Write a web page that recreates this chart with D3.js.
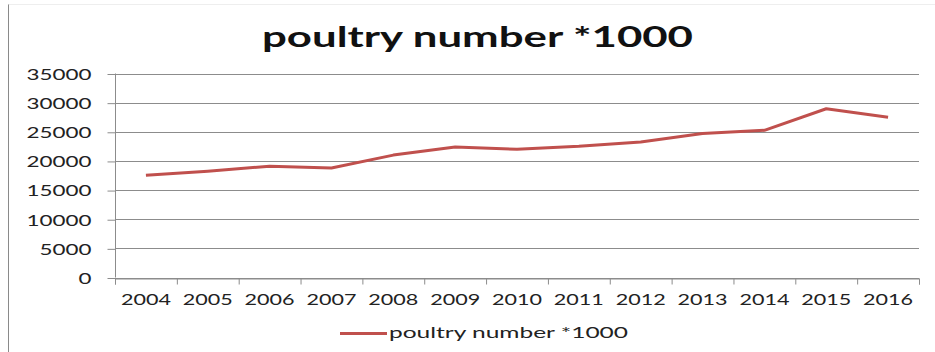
<!DOCTYPE html>
<html>
<head>
<meta charset="utf-8">
<script src="https://cdn.jsdelivr.net/npm/d3@7"></script>
<style>
  body { margin: 0; background: #fff; }
  svg { display: block; }
</style>
</head>
<body>
<div id="wrapper"></div>
<script>
// values
const years = ["2004","2005","2006","2007","2008","2009","2010","2011","2012","2013","2014","2015","2016"];
const poultry = [17550, 18250, 19100, 18800, 21000, 22400, 22000, 22500, 23250, 24700, 25250, 28950, 27500];
const yTicks = [0, 5000, 10000, 15000, 20000, 25000, 30000, 35000];
const chartTitle = "poultry number *1000";
const seriesName = "poultry number *1000";

const dimension = {
    width: 935,
    height: 352,
    left: 115,
    right: 919,
    top: 73.5,
    bottom: 277.5
};

const font = "Lato, 'Open Sans', sans-serif";
const lineColor = "#c0504d";
const gridColor = "#8c8c8c";

const svg = d3.select("#wrapper")
    .append("svg")
    .attr("width", dimension.width)
    .attr("height", dimension.height);

// chart frame (left edge is visible in the picture)
svg.append("line")
    .attr("x1", 8.5).attr("x2", 8.5)
    .attr("y1", 4).attr("y2", dimension.height)
    .attr("stroke", "#8a8a8a");
svg.append("line")
    .attr("x1", 8.5).attr("x2", dimension.width)
    .attr("y1", 4.5).attr("y2", 4.5)
    .attr("stroke", "#eeeeee");

const xScaler = d3.scaleBand()
    .domain(years)
    .range([dimension.left, dimension.right]);

const yScaler = d3.scaleLinear()
    .domain([0, 35000])
    .range([dimension.bottom, dimension.top]);

// gridlines
svg.append("g")
    .selectAll("line")
    .data(yTicks)
    .join("line")
    .attr("x1", dimension.left)
    .attr("x2", dimension.right)
    .attr("y1", d => Math.round(yScaler(d)) + 0.5)
    .attr("y2", d => Math.round(yScaler(d)) + 0.5)
    .attr("stroke", gridColor)
    .attr("stroke-width", 1);

// y axis
const yAxis = svg.append("g")
    .attr("transform", `translate(${dimension.left + 0.5},0)`)
    .call(d3.axisLeft(yScaler)
        .tickValues(yTicks)
        .tickSize(8)
        .tickPadding(16)
        .tickFormat(d3.format("d")));
yAxis.select(".domain").attr("stroke", gridColor).attr("d", `M0,${dimension.top}V${dimension.bottom}`);
yAxis.selectAll(".tick line").attr("stroke", gridColor)
    .attr("transform", "translate(0,0.5)");
yAxis.selectAll(".tick text")
    .attr("font-family", font)
    .attr("font-size", 16)
    .attr("fill", "#222")
    .attr("dy", "0.37em")
    .attr("textLength", d => String(d).length * 13)
    .attr("lengthAdjust", "spacingAndGlyphs");

// x axis tick marks on category boundaries
const boundary = d3.scaleLinear()
    .domain([0, years.length])
    .range([dimension.left, dimension.right]);
const xTickAxis = svg.append("g")
    .attr("transform", `translate(0,${Math.round(dimension.bottom) + 0.5})`)
    .call(d3.axisBottom(boundary)
        .tickValues(d3.range(years.length + 1))
        .tickSize(6)
        .tickFormat(""));
xTickAxis.select(".domain").attr("stroke", gridColor);
xTickAxis.selectAll(".tick line").attr("stroke", gridColor);

// x labels
const xAxis = svg.append("g")
    .attr("transform", `translate(0,${dimension.bottom})`)
    .call(d3.axisBottom(xScaler).tickSize(0));
xAxis.select(".domain").remove();
xAxis.selectAll(".tick text")
    .attr("y", 27.5)
    .attr("dy", null)
    .attr("font-family", font)
    .attr("font-size", 16)
    .attr("fill", "#222")
    .attr("textLength", 50)
    .attr("lengthAdjust", "spacingAndGlyphs");

// the line
const lineGen = d3.line()
    .x((d, i) => xScaler(years[i]) + xScaler.bandwidth() / 2)
    .y(d => yScaler(d));

svg.append("path")
    .datum(poultry)
    .attr("d", lineGen)
    .attr("fill", "none")
    .attr("stroke", lineColor)
    .attr("stroke-width", 3)
    .attr("stroke-linejoin", "round");

// title
svg.append("text")
    .attr("x", 477.5)
    .attr("y", 47)
    .attr("text-anchor", "middle")
    .attr("font-family", font)
    .attr("font-weight", "bold")
    .attr("font-size", 28)
    .attr("fill", "#111")
    .attr("textLength", 431)
    .attr("lengthAdjust", "spacingAndGlyphs")
    .text(chartTitle);

// legend
const legend = svg.append("g");
legend.append("line")
    .attr("x1", 340).attr("x2", 387)
    .attr("y1", 333.5).attr("y2", 333.5)
    .attr("stroke", lineColor)
    .attr("stroke-width", 3);
legend.append("text")
    .attr("x", 389)
    .attr("y", 338)
    .attr("font-family", font)
    .attr("font-size", 15)
    .attr("fill", "#222")
    .attr("textLength", 239)
    .attr("lengthAdjust", "spacingAndGlyphs")
    .text(seriesName);
</script>
</body>
</html>
